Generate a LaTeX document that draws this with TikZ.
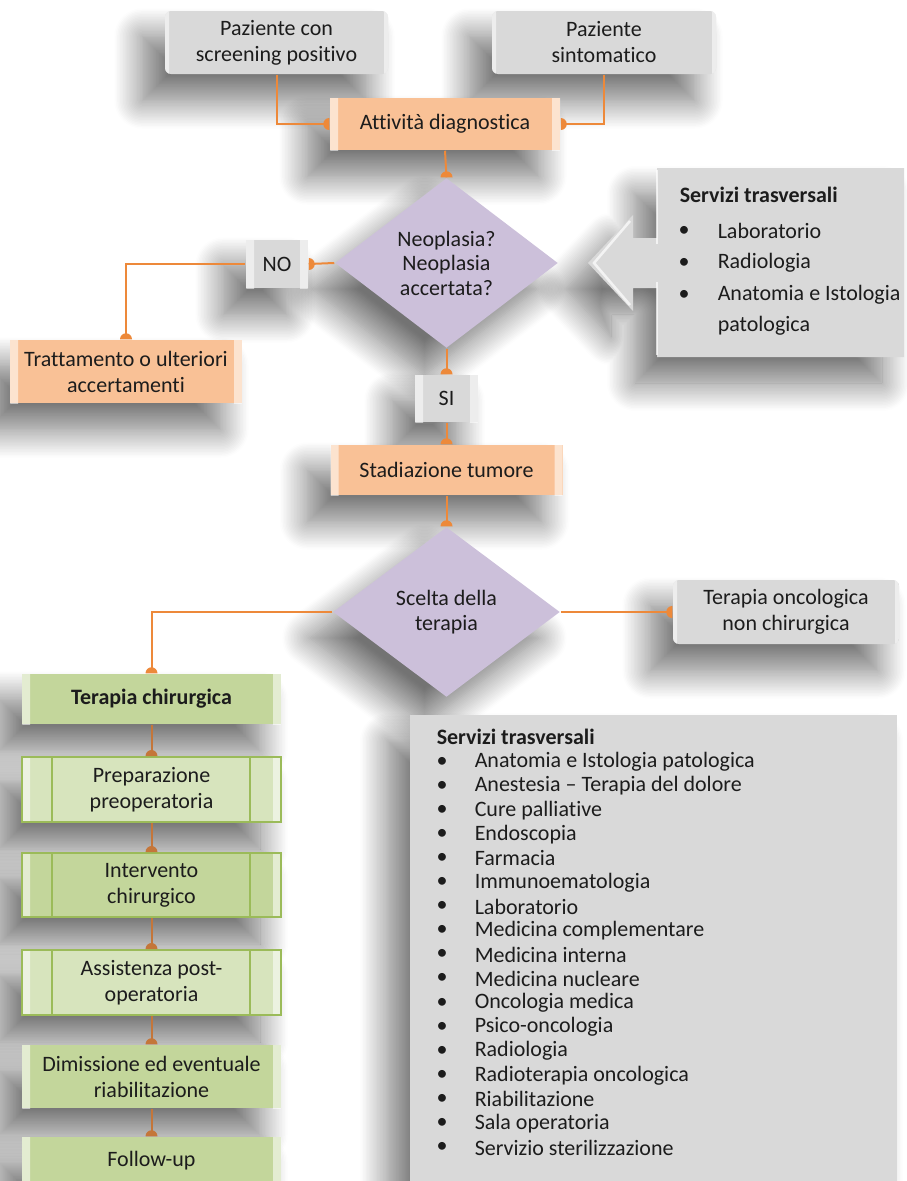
\documentclass[tikz,border=0pt]{standalone}
\usepackage{fontspec}
\setmainfont{Carlito}[Ligatures=NoCommon]
\usetikzlibrary{shapes.geometric,shadows.blur,calc,backgrounds}

\definecolor{boxgray}{RGB}{217,217,217}
\definecolor{boxorange}{RGB}{249,193,150}
\definecolor{boxlilac}{RGB}{204,192,218}
\definecolor{boxgreen}{RGB}{195,214,155}
\definecolor{boxgreenl}{RGB}{215,228,189}
\definecolor{greenline}{RGB}{155,187,89}
\definecolor{linkorange}{RGB}{237,137,58}
\definecolor{linkbrown}{RGB}{196,118,58}
\definecolor{inkc}{RGB}{28,28,28}

\newcommand{\mainsz}{\fontsize{22}{26}\selectfont}
\newcommand{\listsz}{\fontsize{22}{24}\selectfont}
% light edges on the left and right of a box
\newcommand{\bevelfill}[1]{%
  \fill[white,opacity=.55] (path picture bounding box.north west) -- ++(#1,#1)
    -- ($(path picture bounding box.south west)+(#1,-#1)$) -- (path picture bounding box.south west) -- cycle;
  \fill[white,opacity=.55] (path picture bounding box.north east) -- ++(-#1,#1)
    -- ($(path picture bounding box.south east)+(-#1,-#1)$) -- (path picture bounding box.south east) -- cycle;}
% half dot where a link meets a box
\newcommand{\halfdot}[3]{%
  \pgfmathsetmacro\hdstart{#3-90}%
  \fill[#1] (#2) ++(\hdstart:6) arc[start angle=\hdstart, delta angle=180, radius=6] -- cycle;}

\tikzset{every picture/.style={line width=1.5pt}}
\tikzset{
  shade box/.style={blur shadow={shadow xshift=-22pt,shadow yshift=-26pt,shadow blur radius=28pt,shadow opacity=55,shadow blur steps=20}},
  basebox/.style={rectangle, inner sep=0pt, align=center, text=inkc, font=\mainsz},
  graybox/.style={basebox, fill=boxgray, rounded corners=6pt, path picture={\bevelfill{4}}},
  tagbox/.style={basebox, fill=boxgray, path picture={\bevelfill{8}}},
  orangebox/.style={basebox, fill=boxorange, path picture={\bevelfill{8}}},
  decision/.style={diamond, inner sep=0pt, fill=boxlilac, align=center, text=inkc, font=\fontsize{22}{24.5}\selectfont},
  greenbox/.style={basebox, fill=boxgreen, minimum width=259pt, path picture={\bevelfill{8}}},
  processbox/.style={basebox, draw=greenline, line width=2pt, minimum width=259pt,
    path picture={\bevelfill{8}
      \draw[greenline, line width=2pt] ([xshift=30pt]path picture bounding box.north west) -- ([xshift=30pt]path picture bounding box.south west);
      \draw[greenline, line width=2pt] ([xshift=-31pt]path picture bounding box.north east) -- ([xshift=-31pt]path picture bounding box.south east);}},
  link/.style={draw=linkorange, line width=2pt},
  linkdark/.style={draw=linkbrown, line width=2pt},
  listtext/.style={anchor=west, inner sep=0pt, text=inkc, font=\listsz},
}

\begin{document}
\begin{tikzpicture}[x=1pt,y=1pt,yscale=-1,xscale=1]
\useasboundingbox (0,0) rectangle (906,1181);

% Boxes
\node[graybox, minimum width=223pt, minimum height=63pt] (screen) at (276.5,42.5) {Paziente con\\screening positivo};
\node[graybox, minimum width=224pt, minimum height=63pt] (sintom) at (604,42.5) {Paziente\\sintomatico};
\node[orangebox, minimum width=230pt, minimum height=52pt] (diagn) at (445,124) {Attività diagnostica};
\node[decision, minimum width=223pt, minimum height=170pt] (neopl) at (446.5,263) {Neoplasia?\\Neoplasia\\accertata?};
\node[tagbox, minimum width=62pt, minimum height=48pt] (no) at (277,264) {NO};
\node[orangebox, minimum width=232pt, minimum height=63pt] (tratt) at (126,371.5) {Trattamento o ulteriori\\accertamenti};
\node[tagbox, minimum width=63pt, minimum height=47pt] (si) at (446.5,398.5) {SI};
\node[orangebox, minimum width=232pt, minimum height=50pt] (stad) at (446.5,470) {Stadiazione tumore};
\node[decision, minimum width=227pt, minimum height=170pt] (scelta) at (446.5,612) {Scelta della\\terapia};
\node[graybox, minimum width=226pt, minimum height=64pt] (oncol) at (786,612) {Terapia oncologica\\non chirurgica};

\node[greenbox, minimum height=50pt] (chir) at (151.5,699) {\textbf{Terapia chirurgica}};
\node[processbox, fill=boxgreenl, minimum height=65pt] (prep) at (151.5,789.5) {Preparazione\\preoperatoria};
\node[processbox, fill=boxgreen, minimum height=64pt] (interv) at (151.5,885) {Intervento\\chirurgico};
\node[processbox, fill=boxgreenl, minimum height=65pt] (assist) at (151.5,982.5) {Assistenza post-\\operatoria};
\node[greenbox, minimum height=63pt] (dimiss) at (151.5,1076.5) {Dimissione ed eventuale\\riabilitazione};
\node[greenbox, minimum height=48pt] (follow) at (151.5,1161) {Follow-up};

% Shadows and panels behind everything
\begin{scope}[on background layer]
\foreach \n in {screen,sintom,diagn,no,tratt,si,stad,oncol,chir,prep,interv,assist,dimiss,follow}
  \path[shade box] (\n.north west) rectangle (\n.south east);
\foreach \n in {neopl,scelta}
  \path[shade box] (\n.north) -- (\n.east) -- (\n.south) -- (\n.west) -- cycle;
%Side panel with arrow
\path[fill=boxgray, shade box] (657,168) -- (904,168) -- (904,357) -- (657,357) -- (657,288) -- (633,288)
  -- (633,311) -- (588,263) -- (633,215) -- (633,238) -- (657,238) -- cycle;
\draw[white, opacity=.7, line width=2.5pt] (630,221) -- (594,263) -- (630,305);
\draw[white, opacity=.7, line width=2.5pt] (657,244) -- (657,170);
\draw[white, opacity=.7, line width=2.5pt] (657,282) -- (657,355);
%Bottom panel
\path[fill=boxgray, shade box] (410,715) rectangle (897,1195);
\end{scope}

% Links
\draw[link] (screen.south) |- (diagn.west);
\halfdot{linkorange}{diagn.west}{180}
\draw[link] (sintom.south) |- (diagn.east);
\halfdot{linkorange}{diagn.east}{0}
\draw[link] (diagn.south) -- (neopl.north);
\halfdot{linkorange}{neopl.north}{270}
\draw[link] (neopl.west) -- (no.east);
\halfdot{linkorange}{no.east}{0}
\draw[link] (no.west) -| (tratt.north);
\halfdot{linkorange}{tratt.north}{270}
\draw[link] (neopl.south) -- (si.north);
\halfdot{linkorange}{si.north}{270}
\draw[link] (si.south) -- (stad.north);
\halfdot{linkorange}{stad.north}{270}
\draw[link] (stad.south) -- (scelta.north);
\halfdot{linkorange}{scelta.north}{270}
\draw[link] (scelta.west) -| (chir.north);
\halfdot{linkorange}{chir.north}{270}
\draw[link] (scelta.east) -- (oncol.west);
\halfdot{linkorange}{oncol.west}{180}

\draw[linkdark] (chir.south) -- (prep.north);
\halfdot{linkbrown}{prep.north}{270}
\draw[linkdark] (prep.south) -- (interv.north);
\halfdot{linkbrown}{interv.north}{270}
\draw[linkdark] (interv.south) -- (assist.north);
\halfdot{linkbrown}{assist.north}{270}
\draw[linkdark] (assist.south) -- (dimiss.north);
\halfdot{linkbrown}{dimiss.north}{270}
\draw[linkdark] (dimiss.south) -- (follow.north);
\halfdot{linkbrown}{follow.north}{270}

% Text Node
\node[listtext] (servtop) at (679,195) {\textbf{Servizi trasversali}};
\foreach \txt [count=\i] in {Laboratorio, Radiologia}{
  \node[listtext, anchor=center] (topdot\i) at (684,{231+32*(\i-1)}) {\textbullet};
  \node[listtext] (topitem\i) at (717,{231+32*(\i-1)}) {\txt};
}
\node[listtext, anchor=center] (topdot3) at (684,295) {\textbullet};
\node[listtext, align=left, font=\fontsize{22}{31}\selectfont] (topitem3) at (717,310.5) {Anatomia e Istologia\\patologica};

% Text Node
\node[listtext] (servbot) at (436,737) {\textbf{Servizi trasversali}};
\foreach \txt [count=\i] in {Anatomia e Istologia patologica, Anestesia – Terapia del dolore, Cure palliative,
  Endoscopia, Farmacia, Immunoematologia, Laboratorio, Medicina complementare, Medicina interna,
  Medicina nucleare, Oncologia medica, Psico-oncologia, Radiologia, Radioterapia oncologica,
  Riabilitazione, Sala operatoria, Servizio sterilizzazione}{
  \node[listtext, anchor=center] (botdot\i) at (442,{762+24.1*(\i-1)}) {\textbullet};
  \node[listtext] (botitem\i) at (474,{762+24.1*(\i-1)}) {\txt};
}

\end{tikzpicture}
\end{document}
